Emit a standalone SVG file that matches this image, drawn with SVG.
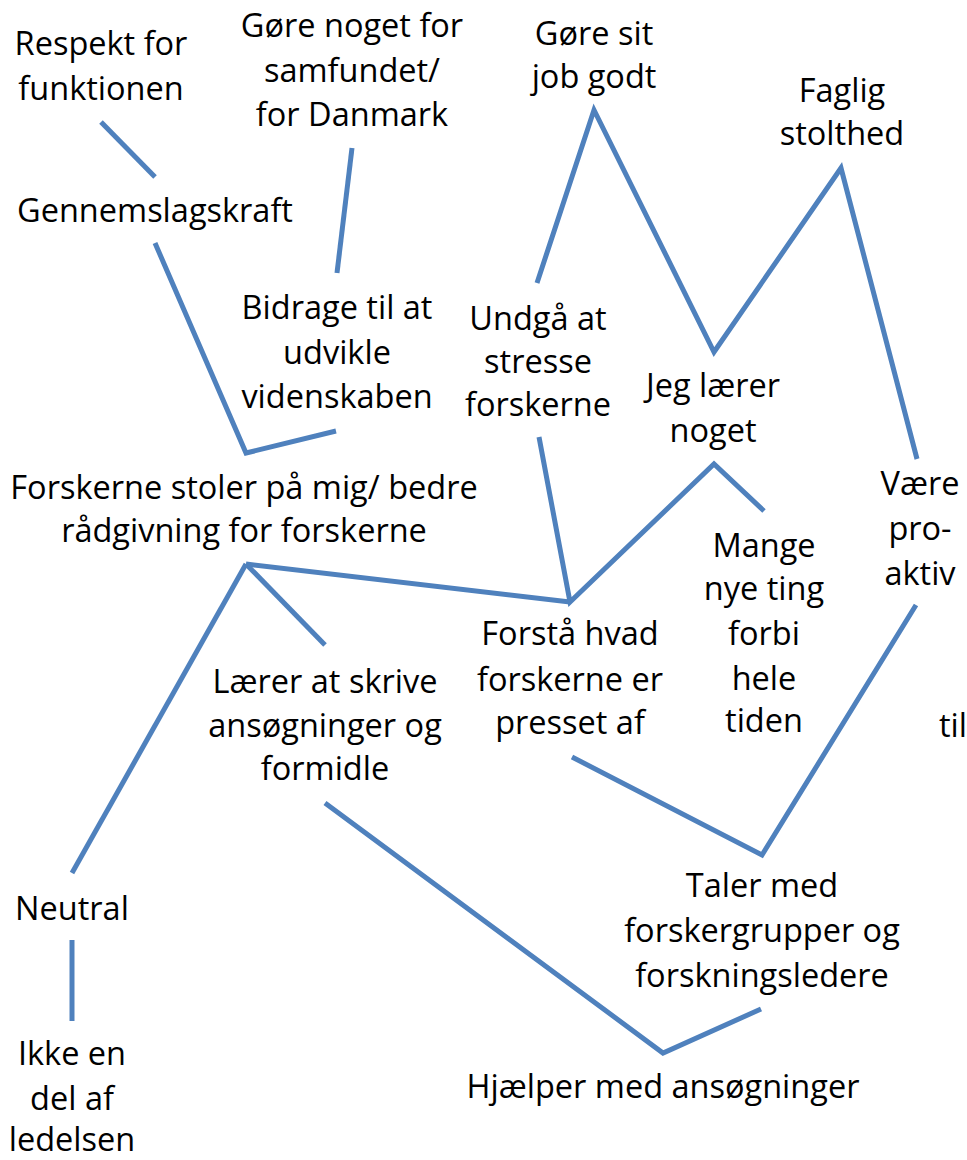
<svg xmlns="http://www.w3.org/2000/svg" width="967" height="1160" viewBox="0 0 967 1160">
<style>
text{font-family:"Open Sans",Lato,"Liberation Sans",sans-serif;font-size:32.5px;fill:#000;text-anchor:middle}
.c{fill:none;stroke:#4F81BD;stroke-width:5;stroke-linejoin:miter;stroke-linecap:butt}
</style>
<rect width="967" height="1160" fill="#fff"/>
<g id="connectors">
<polyline class="c" points="101,122 155,177"/>
<polyline class="c" points="352,148 337,273"/>
<polyline class="c" points="155,243 246,453 336,431"/>
<polyline class="c" points="537,283 594,110 714,352 841,168 917,459"/>
<polyline class="c" points="539,437 570,602 714,464 764,511"/>
<polyline class="c" points="246,564 570,602"/>
<polyline class="c" points="246,564 325,645"/>
<polyline class="c" points="246,564 72,873"/>
<polyline class="c" points="72,940 72,1021"/>
<polyline class="c" points="572,757 762,855 916,605"/>
<polyline class="c" points="325,803 663,1053 761,1009"/>
</g>
<g id="respekt"><text x="101" y="55">Respekt for</text><text x="101" y="100">funktionen</text></g>
<g id="goere-noget"><text x="352" y="37">Gøre noget for</text><text x="352" y="82">samfundet/</text><text x="352" y="126">for Danmark</text></g>
<g id="gennemslagskraft"><text x="155" y="222">Gennemslagskraft</text></g>
<g id="goere-sit-job"><text x="594" y="45">Gøre sit</text><text x="594" y="88">job godt</text></g>
<g id="faglig"><text x="842" y="102">Faglig</text><text x="842" y="145">stolthed</text></g>
<g id="bidrage"><text x="337" y="319">Bidrage til at</text><text x="337" y="364">udvikle</text><text x="337" y="408">videnskaben</text></g>
<g id="undgaa"><text x="538" y="330">Undgå at</text><text x="538" y="373">stresse</text><text x="538" y="416">forskerne</text></g>
<g id="jeg-laerer"><text x="713" y="397">Jeg lærer</text><text x="713" y="442">noget</text></g>
<g id="forskerne-stoler"><text x="244" y="499">Forskerne stoler på mig/ bedre</text><text x="244" y="542">rådgivning for forskerne</text></g>
<g id="vaere-proaktiv"><text x="920" y="495">Være</text><text x="920" y="540">pro-</text><text x="920" y="585">aktiv</text></g>
<g id="mange-nye"><text x="764" y="557">Mange</text><text x="764" y="600">nye ting</text><text x="764" y="645">forbi</text><text x="764" y="690">hele</text><text x="764" y="732">tiden</text></g>
<g id="forstaa"><text x="570" y="645">Forstå hvad</text><text x="570" y="691">forskerne er</text><text x="570" y="734">presset af</text></g>
<g id="laerer-skrive"><text x="325" y="693">Lærer at skrive</text><text x="325" y="737">ansøgninger og</text><text x="325" y="780">formidle</text></g>
<g id="til"><text x="939" y="737" style="text-anchor:start">til</text></g>
<g id="neutral"><text x="72" y="920">Neutral</text></g>
<g id="taler-med"><text x="762" y="897">Taler med</text><text x="762" y="942">forskergrupper og</text><text x="762" y="987">forskningsledere</text></g>
<g id="hjaelper"><text x="663" y="1098">Hjælper med ansøgninger</text></g>
<g id="ikke-en-del"><text x="72" y="1065">Ikke en</text><text x="72" y="1110">del af</text><text x="72" y="1151">ledelsen</text></g>
</svg>
